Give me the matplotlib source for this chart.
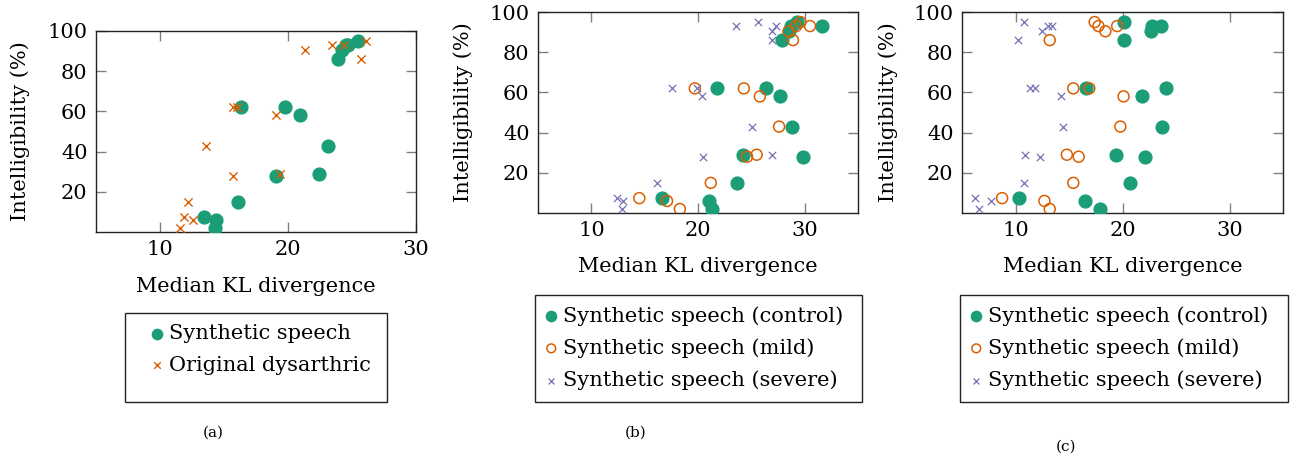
import numpy as np
import matplotlib
matplotlib.use('Agg')
import matplotlib.pyplot as plt
from matplotlib.patches import Rectangle

plt.rcParams['font.family'] = ['DejaVu Serif']
plt.rcParams['font.size'] = 15

# intelligibility (%) per speaker, same order for every series
intel = [95, 93, 93, 90.4, 86, 62, 62, 58, 43, 29, 28, 15, 7.4, 6, 2]

# (a) median KL divergence
a_synth = [25.5, 24.5, 24.7, 24.2, 23.9, 16.3, 19.8, 20.9, 23.1, 22.4, 19.1, 16.1, 13.4, 14.4, 14.3]
a_orig = [26.1, 23.4, 24.4, 21.3, 25.7, 15.7, 16.0, 19.1, 13.6, 19.4, 15.7, 12.2, 11.9, 12.6, 11.6]

# (b)
b_control = [29.3, 28.7, 31.6, 28.5, 27.9, 21.8, 26.4, 27.7, 28.8, 24.2, 29.8, 23.7, 16.6, 21.0, 21.3]
b_mild = [29.6, 29.2, 30.5, 28.5, 28.9, 19.7, 24.3, 25.8, 27.6, 25.5, 24.6, 21.2, 14.5, 17.1, 18.3]
b_severe = [25.6, 23.6, 27.3, 26.9, 26.9, 17.6, 19.9, 20.4, 25.1, 26.9, 20.5, 16.2, 12.4, 13.0, 12.9]

# (c)
c_control = [20.1, 22.8, 23.6, 22.7, 20.1, 16.6, 24.1, 21.8, 23.7, 19.4, 22.1, 20.7, 10.3, 16.5, 17.9]
c_mild = [17.4, 17.75, 19.5, 18.4, 13.2, 15.4, 16.9, 20.1, 19.8, 14.8, 15.9, 15.4, 8.75, 12.7, 13.2]
c_severe = [10.75, 13.0, 13.4, 12.5, 10.2, 11.4, 11.8, 14.25, 14.4, 10.9, 12.3, 10.8, 6.2, 7.7, 6.6]

green = '#1b9e77'
orange = '#d95f02'
purple = '#7570b3'

W, H = 1295, 455
fig = plt.figure(figsize=(W/100, H/100), dpi=100)

def px_axes(x0, y0, x1, y1):
    return fig.add_axes([x0/W, 1 - y1/H, (x1-x0)/W, (y1-y0)/H])

def style(ax, xlim):
    ax.set_xlim(*xlim)
    ax.set_ylim(0, 100)
    ax.set_xticks([10, 20, 30])
    ax.set_yticks([20, 40, 60, 80, 100])
    ax.tick_params(direction='in', length=7, width=1, color='#808080',
                   top=True, right=True, pad=6, labelsize=15)
    for s in ax.spines.values():
        s.set_color('#222222')
        s.set_linewidth(1)
    ax.set_xlabel('Median KL divergence', fontsize=15)
    ax.set_ylabel('Intelligibility (%)', fontsize=15)

def legend(ax, cx, cy, box):
    # legend entries without frame, box drawn separately (pixel coords)
    ax.legend(loc='center', bbox_to_anchor=(cx/W, 1 - cy/H),
              bbox_transform=fig.transFigure, frameon=False, handlelength=0.6,
              handletextpad=0.25, labelspacing=0.6, borderpad=0,
              markerscale=0.8, fontsize=15)
    x0, y0, x1, y1 = box
    fig.add_artist(Rectangle((x0/W, 1 - y1/H), (x1-x0)/W, (y1-y0)/H,
                             transform=fig.transFigure, fill=False,
                             edgecolor='#222222', linewidth=1))

# (a)
ax1 = px_axes(96, 31, 416, 232)
ax1.scatter(a_synth, intel, s=85, color=green, label='Synthetic speech', zorder=3)
ax1.scatter(a_orig, intel, s=35, marker='x', color=orange, linewidths=1,
            label='Original dysarthric', zorder=4)
style(ax1, (5, 30))
ax1.yaxis.set_label_coords(-0.206, 0.5)
ax1.xaxis.set_label_coords(0.5, -0.224)
legend(ax1, 261, 349.5, (125, 313, 387, 402))

# (b)
ax2 = px_axes(538, 12, 858, 213)
ax2.scatter(b_control, intel, s=85, color=green, label='Synthetic speech (control)', zorder=3)
ax2.scatter(b_mild, intel, s=62, facecolors='none', edgecolors=orange, linewidths=1.1,
            label='Synthetic speech (mild)', zorder=4)
ax2.scatter(b_severe, intel, s=28, marker='x', color=purple, linewidths=0.9,
            label='Synthetic speech (severe)', zorder=5)
style(ax2, (5, 35))
ax2.yaxis.set_label_coords(-0.203, 0.5)
ax2.xaxis.set_label_coords(0.5, -0.219)
legend(ax2, 694, 348, (535, 295, 862, 402))

# (c)
ax3 = px_axes(962, 12, 1283, 213)
ax3.scatter(c_control, intel, s=85, color=green, label='Synthetic speech (control)', zorder=3)
ax3.scatter(c_mild, intel, s=62, facecolors='none', edgecolors=orange, linewidths=1.1,
            label='Synthetic speech (mild)', zorder=4)
ax3.scatter(c_severe, intel, s=28, marker='x', color=purple, linewidths=0.9,
            label='Synthetic speech (severe)', zorder=5)
style(ax3, (5, 35))
ax3.yaxis.set_label_coords(-0.199, 0.5)
ax3.xaxis.set_label_coords(0.5, -0.219)
legend(ax3, 1119, 348, (960, 295, 1288, 402))

fig.text(213/W, 1 - 433/H, '(a)', ha='center', va='center', fontsize=11)
fig.text(636/W, 1 - 433/H, '(b)', ha='center', va='center', fontsize=11)
fig.text(1066/W, 1 - 447/H, '(c)', ha='center', va='center', fontsize=11)

fig.savefig('out.png', dpi=100)
